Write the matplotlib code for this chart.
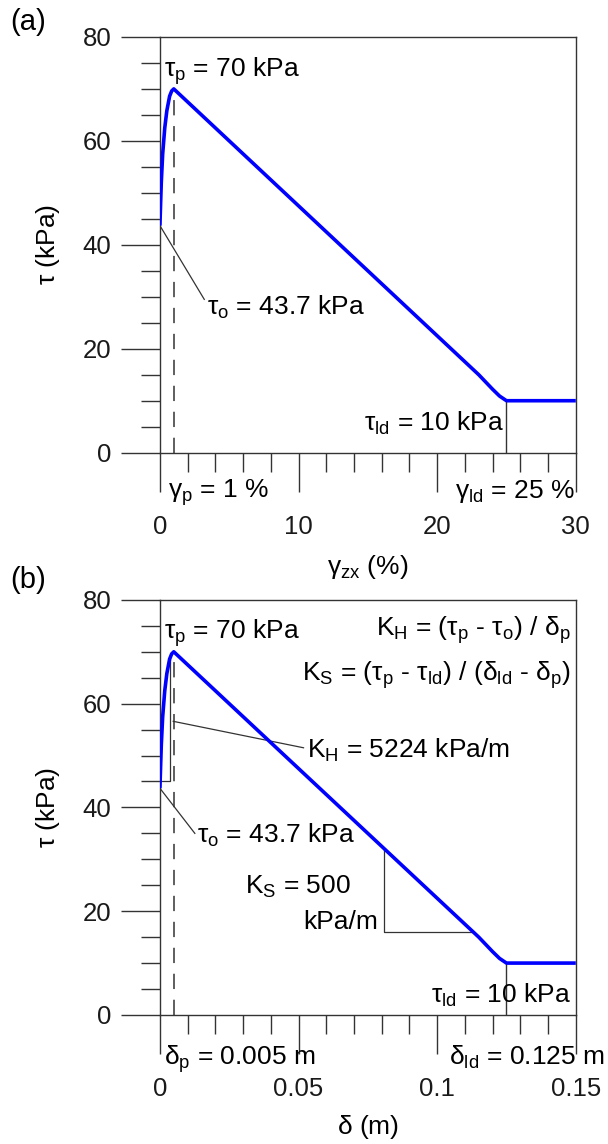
import matplotlib
matplotlib.use("Agg")
import matplotlib.pyplot as plt
from matplotlib.ticker import MultipleLocator, FuncFormatter

plt.rcParams['font.family'] = ['Liberation Sans', 'DejaVu Sans']
plt.rcParams['mathtext.default'] = 'regular'

# (a) shear stress vs shear strain (%)
gamma_pct = [0, 0.1, 0.2, 0.35, 0.5, 0.7, 0.85, 1.0, 5, 10, 15, 20, 23, 24, 24.5, 25, 30]
tau_a = [43.7, 52, 57.5, 62.5, 65.8, 68.6, 69.6, 70, 60, 47.5, 35, 22.5, 15, 12.2, 10.9, 10, 10]

# (b) shear stress vs displacement (m)
delta_m = [0, 0.0005, 0.001, 0.00175, 0.0025, 0.0035, 0.00425, 0.005,
           0.025, 0.05, 0.075, 0.1, 0.115, 0.12, 0.1225, 0.125, 0.15]
tau_b = [43.7, 52, 57.5, 62.5, 65.8, 68.6, 69.6, 70, 60, 47.5, 35, 22.5, 15, 12.2, 10.9, 10, 10]

tau_p, tau_o, tau_ld = 70, 43.7, 10
gamma_p, gamma_ld = 1, 25
delta_p, delta_ld = 0.005, 0.125

FS = 19      # annotations
TFS = 18.5   # tick labels
LINE = '#333333'

fig = plt.figure(figsize=(6.08, 11.44), dpi=100)
ax_a = fig.add_axes([0.263, 0.6043, 0.684, 0.3634])
ax_b = fig.add_axes([0.263, 0.1128, 0.684, 0.3628])


def style_axes(ax, xmax, xmajor, xminor):
    ax.set_xlim(0, xmax)
    ax.set_ylim(0, 80)
    ax.xaxis.set_major_locator(MultipleLocator(xmajor))
    ax.xaxis.set_minor_locator(MultipleLocator(xminor))
    ax.yaxis.set_major_locator(MultipleLocator(20))
    ax.yaxis.set_minor_locator(MultipleLocator(5))
    ax.xaxis.set_major_formatter(FuncFormatter(lambda v, p: f'{v:g}'))
    for s in ax.spines.values():
        s.set_color(LINE)
        s.set_linewidth(1.0)
    ax.tick_params(axis='both', which='both', direction='out', color=LINE, width=1.0,
                   labelsize=TFS, labelcolor='#1a1a1a')
    ax.tick_params(axis='x', which='major', length=28, pad=17)
    ax.tick_params(axis='x', which='minor', length=14)
    ax.tick_params(axis='y', which='major', length=28, pad=7)
    ax.tick_params(axis='y', which='minor', length=14)
    ax.set_ylabel(r'$\tau$ (kPa)', fontsize=FS, va='center')
    ax.yaxis.set_label_coords(-0.27, 0.5)


# ---- panel (a)
style_axes(ax_a, 30, 10, 2)
ax_a.plot(gamma_pct, tau_a, color='#0000ff', lw=2.6, solid_capstyle='butt', zorder=3)
ax_a.plot([gamma_p, gamma_p], [0, tau_p], color=LINE, lw=1.1, dashes=(10, 7))
ax_a.plot([gamma_ld, gamma_ld], [0, tau_ld], color=LINE, lw=1.0)
ax_a.plot([0, 3.2], [tau_o, 29.5], color=LINE, lw=0.9)
ax_a.text(0.3, 72.3, r'$\tau_p$ = 70 kPa', fontsize=FS, va='baseline')
ax_a.text(3.4, 26.5, r'$\tau_o$ = 43.7 kPa', fontsize=FS, va='baseline')
ax_a.text(24.8, 4.2, r'$\tau_{ld}$ = 10 kPa', fontsize=FS, va='baseline', ha='right')
ax_a.text(0.6, -8.7, r'$\gamma_p$ = 1 %', fontsize=FS, va='baseline')
ax_a.text(29.9, -8.7, r'$\gamma_{ld}$ = 25 %', fontsize=FS, va='baseline', ha='right')
ax_a.set_xlabel(r'$\gamma_{zx}$ (%)', fontsize=FS, va='center')
ax_a.xaxis.set_label_coords(0.5, -0.275)

# ---- panel (b)
style_axes(ax_b, 0.15, 0.05, 0.01)
ax_b.plot(delta_m, tau_b, color='#0000ff', lw=2.6, solid_capstyle='butt', zorder=3)
ax_b.plot([delta_p, delta_p], [0, tau_p], color=LINE, lw=1.1, dashes=(10, 7))
ax_b.plot([delta_ld, delta_ld], [0, tau_ld], color=LINE, lw=1.0)
# K_H slope marker and leader
ax_b.plot([0, 0.0038, 0.0038], [45, 45, 68.8], color=LINE, lw=0.9)
ax_b.plot([0.0048, 0.0518], [56.6, 51.5], color=LINE, lw=0.9)
# tau_o leader
ax_b.plot([0, 0.0126], [tau_o, 35], color=LINE, lw=0.9)
# K_S slope marker
ax_b.plot([0.081, 0.081, 0.113], [32, 16, 16], color=LINE, lw=0.9)

ax_b.text(0.0014, 72.5, r'$\tau_p$ = 70 kPa', fontsize=FS, va='baseline')
ax_b.text(0.148, 73.0, r'$K_H$ = ($\tau_p$ - $\tau_o$) / $\delta_p$', fontsize=FS,
          va='baseline', ha='right')
ax_b.text(0.148, 64.5, r'$K_S$ = ($\tau_p$ - $\tau_{ld}$) / ($\delta_{ld}$ - $\delta_p$)',
          fontsize=FS, va='baseline', ha='right')
ax_b.text(0.0532, 49.5, r'$K_H$ = 5224 kPa/m', fontsize=FS, va='baseline')
ax_b.text(0.0133, 33.2, r'$\tau_o$ = 43.7 kPa', fontsize=FS, va='baseline')
ax_b.text(0.0308, 23.4, r'$K_S$ = 500', fontsize=FS, va='baseline')
ax_b.text(0.0788, 16.6, 'kPa/m', fontsize=FS, va='baseline', ha='right')
ax_b.text(0.1484, 2.4, r'$\tau_{ld}$ = 10 kPa', fontsize=FS, va='baseline', ha='right')
ax_b.text(0.0014, -9.6, r'$\delta_p$ = 0.005 m', fontsize=FS, va='baseline')
ax_b.text(0.1042, -9.6, r'$\delta_{ld}$ = 0.125 m', fontsize=FS, va='baseline')
ax_b.set_xlabel(r'$\delta$ (m)', fontsize=FS, va='center')
ax_b.xaxis.set_label_coords(0.5, -0.271)

fig.text(10 / 608, 1 - 22 / 1144, '(a)', fontsize=21, va='center')
fig.text(10 / 608, 1 - 580 / 1144, '(b)', fontsize=21, va='center')

fig.savefig('out.png', dpi=100, facecolor='white')
